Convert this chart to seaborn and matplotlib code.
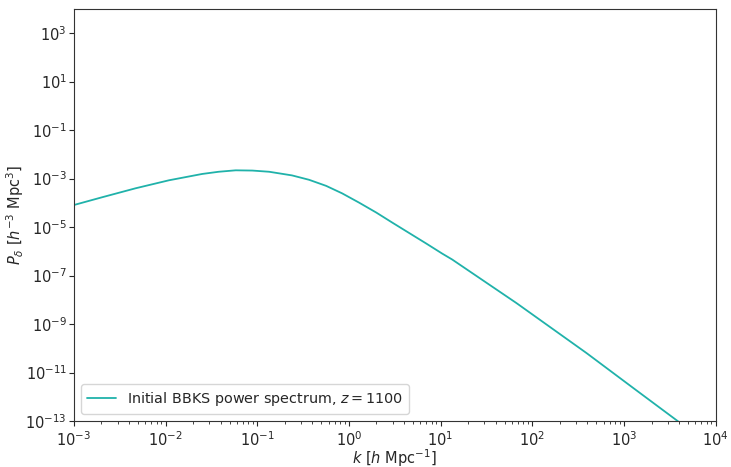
import matplotlib
matplotlib.use('Agg')
import matplotlib.pyplot as plt
import seaborn as sns
import pandas as pd

# values (k in h/Mpc, P in h^-3 Mpc^3)
k_vals = [1.0e-3, 2.04e-3, 4.72e-3, 1.09e-2, 2.51e-2, 3.80e-2, 5.83e-2, 8.85e-2,
          0.135, 0.24, 0.368, 0.565, 0.845, 1.29, 1.99, 2.97, 4.55, 6.98,
          10.4, 13.4, 67.1, 390.0, 1306.0, 3846.0, 5000.0]
p_vals = [8.1e-5, 1.70e-4, 3.98e-4, 8.5e-4, 1.55e-3, 1.91e-3, 2.19e-3, 2.14e-3,
          1.91e-3, 1.35e-3, 8.9e-4, 5.0e-4, 2.45e-4, 1.02e-4, 3.96e-5, 1.53e-5, 5.66e-6, 2.09e-6,
          8.07e-7, 4.57e-7, 7.35e-9, 6.37e-11, 2.09e-12, 1.0e-13, 4.8e-14]

df = pd.DataFrame({'k': k_vals, 'P': p_vals})

sns.set_style('ticks')
plt.rcParams['font.family'] = ['DejaVu Sans']

fig = plt.figure(figsize=(7.31, 4.67), dpi=100)
ax = fig.add_axes([0.101, 0.0985, 0.878, 0.8825])
sns.lineplot(data=df, x='k', y='P', ax=ax, color='lightseagreen', lw=1.3,
             label='Initial BBKS power spectrum, $z = 1100$', sort=False)
ax.set_xscale('log')
ax.set_yscale('log')
ax.set_xlim(1e-3, 1e4)
ax.set_ylim(1e-13, 1e4)
ax.set_xlabel(r'$k$ [$h$ Mpc$^{-1}$]', fontsize=10.5)
ax.set_ylabel(r'$P_\delta$ [$h^{-3}$ Mpc$^3$]', fontsize=10.5)
ax.xaxis.set_label_coords(0.5, -0.064)
ax.yaxis.set_label_coords(-0.074, 0.5)
ax.tick_params(labelsize=10.5, length=3.5)
ax.tick_params(axis='y', pad=1.5)
for s in ax.spines.values():
    s.set_color('#333333')
ax.legend(loc='lower left', fontsize=10.4)

fig.savefig('out.png', dpi=100)
